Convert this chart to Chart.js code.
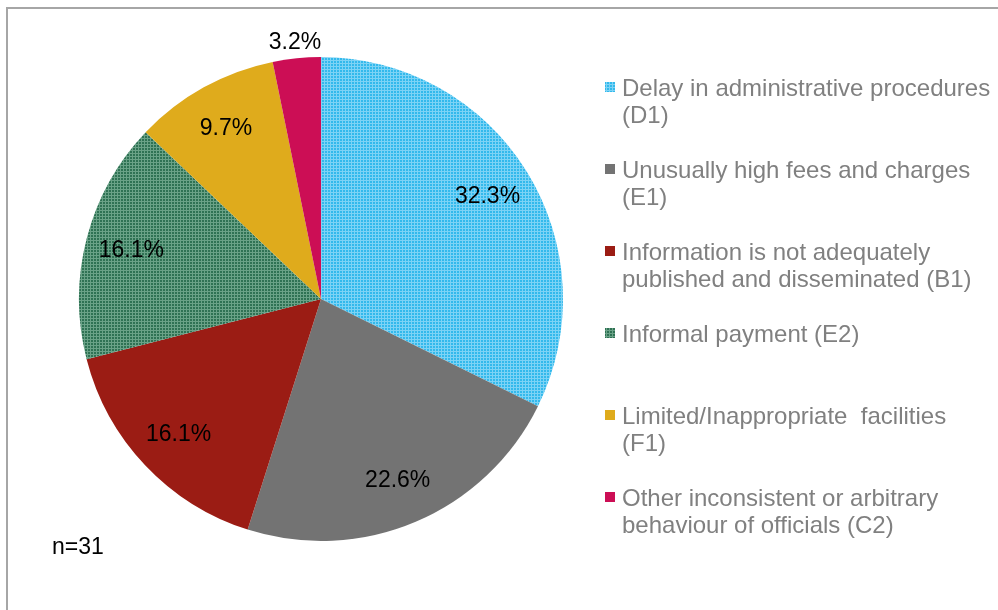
<!DOCTYPE html>
<html>
<head>
<meta charset="utf-8">
<script src="https://cdn.jsdelivr.net/npm/chart.js@4.4.1/dist/chart.umd.min.js"></script>
<style>
  html, body { margin: 0; padding: 0; background: #fff; }
  #wrap { position: relative; width: 998px; height: 610px; }
</style>
</head>
<body>
<div id="wrap"><canvas id="myChart" width="998" height="610"></canvas></div>
<script>
// categories (legend lines split where the original wraps)
var categories = [
  ['Delay in administrative procedures', '(D1)'],
  ['Unusually high fees and charges', '(E1)'],
  ['Information is not adequately', 'published and disseminated (B1)'],
  ['Informal payment (E2)'],
  ['Limited/Inappropriate  facilities', '(F1)'],
  ['Other inconsistent or arbitrary', 'behaviour of officials (C2)']
];
// share of respondents, %
var shares = [32.3, 22.6, 16.1, 16.1, 9.7, 3.2];
var sampleNote = 'n=31';

var FONT = '"Liberation Sans", Arial, sans-serif';

// small tiled patterns like the office fills
function makePattern(base, line) {
  var c = document.createElement('canvas');
  c.width = 3; c.height = 3;
  var g = c.getContext('2d');
  g.fillStyle = base;
  g.fillRect(0, 0, 3, 3);
  g.fillStyle = line;
  g.fillRect(0, 0, 3, 1);
  g.fillRect(0, 0, 1, 3);
  return g.createPattern(c, 'repeat');
}
var blueFill = makePattern('#33b9ec', '#7dd3f5');
var greenFill = makePattern('#2f7254', '#6aa287');

var colors = [blueFill, '#737373', '#9b1c14', greenFill, '#dfab1c', '#cc0e55'];

// frame, value labels, legend and note
var decorPlugin = {
  id: 'decor',
  beforeDraw: function (chart) {
    var c = chart.ctx;
    c.save();
    c.strokeStyle = '#a6a6a6';
    c.lineWidth = 2;
    c.beginPath();
    c.moveTo(7, 612);
    c.lineTo(7, 8);
    c.lineTo(998, 8);
    c.stroke();
    c.restore();
  },
  afterDatasetsDraw: function (chart) {
    var c = chart.ctx;
    var meta = chart.getDatasetMeta(0);
    var data = chart.data.datasets[0].data;
    c.save();
    c.font = '23px ' + FONT;
    c.fillStyle = '#000';
    c.textAlign = 'center';
    c.textBaseline = 'middle';
    meta.data.forEach(function (arc, i) {
      var mid = (arc.startAngle + arc.endAngle) / 2;
      var r = arc.outerRadius * (i === data.length - 1 ? 1.07 : 0.81);
      c.fillText(data[i].toFixed(1) + '%', arc.x + Math.cos(mid) * r, arc.y + Math.sin(mid) * r + 1);
    });

    // legend
    var lx = 622, ly = 89, step = 82, lh = 27;
    c.font = '24px ' + FONT;
    chart.data.labels.forEach(function (lines, i) {
      var y = ly + i * step;
      c.fillStyle = chart.data.datasets[0].backgroundColor[i];
      c.fillRect(lx - 17, y - 7, 10, 10);
      c.fillStyle = '#808080';
      c.textAlign = 'left';
      lines.forEach(function (t, k) {
        c.fillText(t, lx, y + k * lh);
      });
    });

    c.fillStyle = '#000';
    c.font = '23px ' + FONT;
    c.fillText(sampleNote, 52, 548);
    c.restore();
  }
};

var ctx = document.getElementById('myChart').getContext('2d');
var myChart = new Chart(ctx, {
  type: 'pie',
  data: {
    labels: categories,
    datasets: [{
      data: shares,
      backgroundColor: colors,
      borderWidth: 0
    }]
  },
  options: {
    responsive: false,
    animation: false,
    layout: { padding: { left: 79, top: 57, right: 435, bottom: 69 } },
    plugins: {
      legend: { display: false },
      tooltip: { enabled: false }
    }
  },
  plugins: [decorPlugin]
});
</script>
</body>
</html>
